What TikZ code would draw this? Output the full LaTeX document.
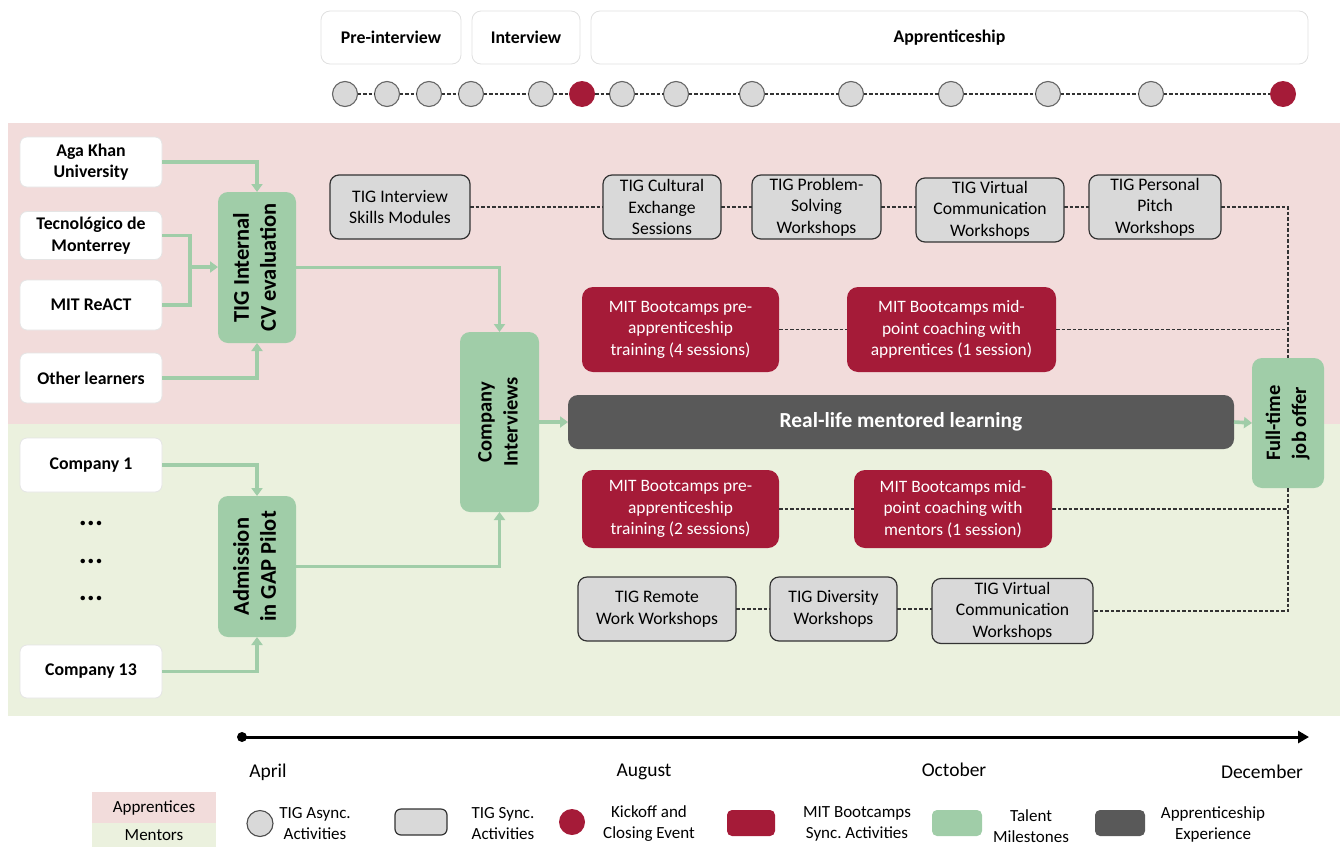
\documentclass[tikz,border=0pt]{standalone}
\usepackage{fontspec}
\setmainfont{Carlito}
\usetikzlibrary{arrows.meta}
\definecolor{tgreen}{RGB}{160,205,168}
\definecolor{tred}{RGB}{165,27,56}
\definecolor{pinkbg}{RGB}{242,220,219}
\definecolor{greenbg}{RGB}{235,241,222}
\definecolor{lgray}{RGB}{217,217,217}
\definecolor{dgray}{RGB}{89,89,89}
\newcommand{\vtext}[1]{\rotatebox{90}{\begin{tabular}{@{}c@{}}#1\end{tabular}}}
\frenchspacing
\begin{document}
\begin{tikzpicture}[x=1pt,y=-1pt,
  bx/.style={inner sep=0pt, outer sep=0pt, align=center},
  phase/.style={bx, fill=white, draw=black!12, line width=0.8pt, rounded corners=9pt, font=\fontsize{17.8}{21}\selectfont\bfseries},
  src/.style={bx, fill=white, draw=black!10, line width=0.8pt, rounded corners=7pt, font=\fontsize{17.8}{21.5}\selectfont\bfseries},
  mile/.style={bx, fill=tgreen, rounded corners=10pt, font=\fontsize{20.5}{26}\selectfont\bfseries},
  bigmile/.style={mile, font=\fontsize{22.5}{27}\selectfont\bfseries},
  sync/.style={bx, fill=lgray, draw=black!80, line width=1.2pt, rounded corners=9pt, font=\fontsize{17.6}{21.5}\selectfont},
  mitb/.style={bx, fill=tred, text=white, rounded corners=11pt, font=\fontsize{17.4}{21.5}\selectfont},
  async/.style={circle, inner sep=0pt, outer sep=0pt, minimum size=25pt, fill=lgray, draw=black!60, line width=1.1pt},
  kick/.style={circle, inner sep=0pt, outer sep=0pt, minimum size=26pt, fill=tred},
  flow/.style={draw=tgreen, line width=3.6pt, -{Triangle[width=11pt,length=8pt]}},
  flowline/.style={draw=tgreen, line width=3.6pt},
  dline/.style={draw=black!80, line width=1.3pt, dash pattern=on 3.5pt off 2pt},
  month/.style={bx, font=\fontsize{19.5}{22}\selectfont},
  leg/.style={bx, font=\fontsize{17}{21}\selectfont},
  dots/.style={bx, font=\fontsize{30}{30}\selectfont\bfseries},
]
\useasboundingbox (0,0) rectangle (1343,846);
% backgrounds
\fill[pinkbg] (8,123) rectangle (1340,424);
\fill[greenbg] (8,424) rectangle (1340,716);

% phases
\node[phase, minimum width=140pt, minimum height=53pt] (pre) at (391,37.5) {Pre-interview};
\node[phase, minimum width=108pt, minimum height=53pt] (intv) at (526,37.5) {Interview};
\node[phase, minimum width=717pt, minimum height=53pt] (appr) at (949.5,37.5) {Apprenticeship};

% timeline circles
\node[async] (t1) at (345,94) {};
\node[async] (t2) at (387,94) {};
\node[async] (t3) at (429,94) {};
\node[async] (t4) at (471,94) {};
\node[async] (t5) at (541,94) {};
\node[kick]  (t6) at (582,94) {};
\node[async] (t7) at (622,94) {};
\node[async] (t8) at (676,94) {};
\node[async] (t9) at (752,94) {};
\node[async] (t10) at (851,94) {};
\node[async] (t11) at (951,94) {};
\node[async] (t12) at (1048,94) {};
\node[async] (t13) at (1151,94) {};
\node[kick]  (t14) at (1283,94) {};
\foreach \a/\b in {t1/t2,t2/t3,t3/t4,t4/t5,t5/t6,t6/t7,t7/t8,t8/t9,t9/t10,t10/t11,t11/t12,t12/t13,t13/t14}
  \draw[dline] (\a) -- (\b);

% sources
\node[src, minimum width=142pt, minimum height=50pt] (aga) at (91,162) {Aga Khan\\University};
\node[src, minimum width=142pt, minimum height=48pt] (tec) at (91,235.5) {Tecnológico de\\Monterrey};
\node[src, minimum width=142pt, minimum height=50pt] (mit) at (91,305) {MIT ReACT};
\node[src, minimum width=142pt, minimum height=50pt] (oth) at (91,378) {Other learners};
\node[src, minimum width=142pt, minimum height=54pt] (co1) at (91,465) {Company 1};
\node[dots] (d1) at (91,523) {...};
\node[dots] (d2) at (91,561) {...};
\node[dots] (d3) at (91,598) {...};
\node[src, minimum width=142pt, minimum height=53pt] (co13) at (91,671.5) {Company 13};

% milestones
\node[bigmile, minimum width=78pt, minimum height=151pt] (cv) at (257,267.5) {\vtext{TIG Internal\\CV evaluation}};
\node[bigmile, minimum width=78pt, minimum height=141pt] (adm) at (257,566.5) {\vtext{Admission\\in GAP Pilot}};
\node[mile, minimum width=79pt, minimum height=180pt] (ci) at (499.5,422) {\vtext{Company\\Interviews}};
\node[mile, minimum width=72pt, minimum height=130pt] (ft) at (1288,423) {\vtext{Full-time\\job offer}};
\node[bx, fill=dgray, rounded corners=10pt, text=white, font=\fontsize{21.4}{25}\selectfont\bfseries, minimum width=666pt, minimum height=54pt] (rl) at (901,422) {Real-life mentored learning};

% flows
\coordinate (j) at (190,267);
\draw[flow] (aga.east) -| (cv.north);
\draw[flowline] (tec.east) -| (j);
\draw[flowline] (mit.east) -| (j);
\draw[flow] (j) -- (j -| cv.west);
\draw[flow] (oth.east) -| (cv.south);
\draw[flow] (cv.east) -| (ci.north);
\draw[flow] (co1.east) -| (adm.north);
\draw[flow] (co13.east) -| (adm.south);
\draw[flow] (adm.east) -| (ci.south);
\draw[flow] (ci.east) -- (rl.west);
\draw[flow] (rl.east) -- (ft.west);

% apprentice sync activities
\node[sync, minimum width=140pt, minimum height=64pt] (s1) at (400,207) {TIG Interview\\Skills Modules};
\node[sync, minimum width=118pt, minimum height=64pt] (s2) at (662,207) {TIG Cultural\\Exchange\\Sessions};
\node[sync, minimum width=129pt, minimum height=64pt] (s3) at (816.5,207) {TIG Problem-\\Solving\\Workshops};
\node[sync, minimum width=148pt, minimum height=64pt] (s4) at (990,210) {TIG Virtual\\Communication\\Workshops};
\node[sync, minimum width=132pt, minimum height=64pt] (s5) at (1155,207) {TIG Personal\\Pitch\\Workshops};
\draw[dline] (s1) -- (s2);
\draw[dline] (s2) -- (s3);
\draw[dline] (s3.east) -- (s3.east -| s4.west);
\draw[dline] (s4.east |- s5.west) -- (s5.west);
\draw[dline] (s5.east) -| (ft.north);

\node[mitb, minimum width=197pt, minimum height=85pt] (m1) at (680.5,329.5) {MIT Bootcamps pre-\\apprenticeship\\training (4 sessions)};
\node[mitb, minimum width=209pt, minimum height=85pt] (m2) at (951.5,329.5) {MIT Bootcamps mid-\\point coaching with\\apprentices (1 session)};
\draw[dline] (m1) -- (m2);
\draw[dline] (m2.east) -- (m2.east -| ft.north);

% mentor activities
\node[mitb, minimum width=197pt, minimum height=78pt] (m3) at (680.5,509) {MIT Bootcamps pre-\\apprenticeship\\training (2 sessions)};
\node[mitb, minimum width=198pt, minimum height=78pt] (m4) at (953,509) {MIT Bootcamps mid-\\point coaching with\\mentors (1 session)};
\draw[dline] (m3) -- (m4);
\draw[dline] (m4.east) -- (m4.east -| ft.south);

\node[sync, minimum width=158pt, minimum height=64pt] (g1) at (657,609) {TIG Remote\\Work Workshops};
\node[sync, minimum width=127pt, minimum height=64pt] (g2) at (833.5,609) {TIG Diversity\\Workshops};
\node[sync, minimum width=161pt, minimum height=65pt] (g3) at (1012.5,611) {TIG Virtual\\Communication\\Workshops};
\draw[dline] (g1) -- (g2);
\draw[dline] (g2.east) -- (g2.east -| g3.west);
\draw[dline] (ft.south) |- (g3.east);

% time axis
\coordinate (ax0) at (242,737);
\coordinate (ax1) at (1309,737);
\draw[line width=3pt, -{Triangle[width=12pt,length=11pt]}] (ax0) -- (ax1);
\fill (ax0) circle (5pt);
\node[month] (apr) at (268,772) {April};
\node[month] (aug) at (644,772) {August};
\node[month] (oct) at (954,770) {October};
\node[month] (dec) at (1262,772) {December};

% legend
\node[leg, fill=pinkbg, minimum width=124pt, minimum height=31pt] (lapp) at (154,807.5) {Apprentices};
\node[leg, fill=greenbg, minimum width=124pt, minimum height=24pt, anchor=north] (lmen) at (lapp.south) {Mentors};
\node[async, minimum size=26pt, draw=black!70] (la) at (260,823.5) {};
\node[leg] (lat) at (315,824) {TIG Async.\\Activities};
\node[bx, fill=lgray, draw=black!80, line width=1.2pt, rounded corners=6pt, minimum width=52pt, minimum height=26pt] (ls) at (421,822) {};
\node[leg] (lst) at (503,824) {TIG Sync.\\Activities};
\node[kick] (lk) at (572,822) {};
\node[leg] (lkt) at (649,824) {Kickoff and\\Closing Event};
\node[bx, fill=tred, rounded corners=5pt, minimum width=48pt, minimum height=26pt] (lm) at (751,823) {};
\node[leg] (lmt) at (857,824) {MIT Bootcamps\\Sync. Activities};
\node[bx, fill=tgreen, rounded corners=5pt, minimum width=50pt, minimum height=26pt] (lt) at (957,823) {};
\node[leg] (ltt) at (1031,826) {Talent\\Milestones};
\node[bx, fill=dgray, rounded corners=5pt, minimum width=50pt, minimum height=26pt] (ld) at (1120,823) {};
\node[leg] (ldt) at (1213,824) {Apprenticeship\\Experience};
\end{tikzpicture}
\end{document}
